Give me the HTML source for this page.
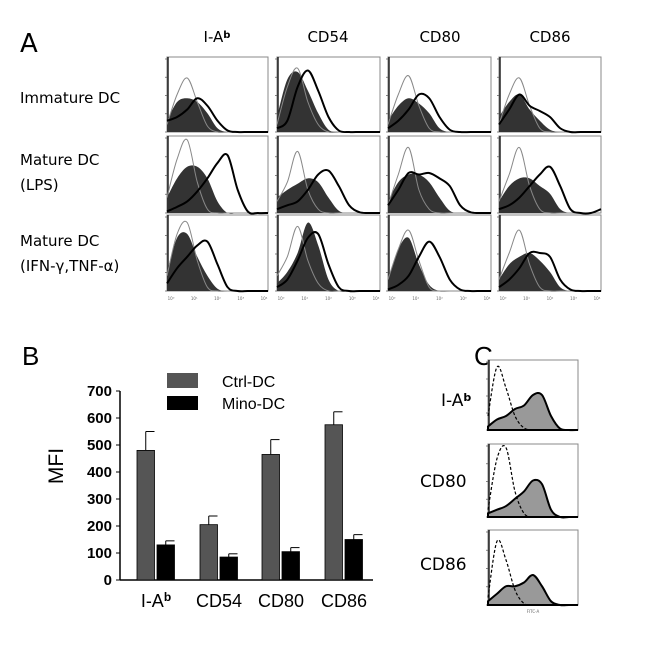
<!DOCTYPE html>
<html><head><meta charset="utf-8"><style>
body{margin:0;background:#fff;width:650px;height:668px;overflow:hidden}
svg{display:block}
text{font-family:"DejaVu Sans","Liberation Sans",sans-serif}
.ar{font-family:"Liberation Sans",Arial,sans-serif}
</style></head><body>
<svg id="fig" width="650" height="668">
<text x="20" y="52" font-size="26">A</text>
<text x="22" y="365" font-size="26" class="ar">B</text>
<text x="474" y="365" font-size="26" class="ar">C</text>
<g font-size="15">
<text x="217" y="42" text-anchor="middle">I-A<tspan font-size="10" dy="-4" font-weight="bold">b</tspan></text>
<text x="328" y="42" text-anchor="middle">CD54</text>
<text x="440" y="42" text-anchor="middle">CD80</text>
<text x="550" y="42" text-anchor="middle">CD86</text>
</g>
<g font-size="15">
<text x="20" y="103">Immature DC</text>
<text x="20" y="165">Mature DC</text>
<text x="20" y="190">(LPS)</text>
<text x="20" y="246">Mature DC</text>
<text x="20" y="271">(IFN-γ,TNF-α)</text>
</g>
<g font-size="17" class="ar">
<text x="441" y="406">I-A<tspan font-size="11" dy="-5" font-weight="bold">b</tspan></text>
<text x="420" y="487">CD80</text>
<text x="420" y="570">CD86</text>
</g>
<g id="gA"></g>
<g id="gC"></g>
<g id="gB"></g>
</svg>
<script>
const NS="http://www.w3.org/2000/svg";
// Panel A histogram data (fraction of box height at evenly spaced log-fluorescence points)
const aGray=[
[0.1,0.5,0.72,0.4,0.08,0,0,0,0,0,0],[0.1,0.6,0.85,0.4,0.1,0,0,0,0,0,0],[0.1,0.5,0.75,0.35,0.05,0,0,0,0,0,0],[0.1,0.5,0.72,0.35,0.05,0,0,0,0,0,0],
[0.2,0.7,0.95,0.4,0.05,0,0,0,0,0,0],[0.15,0.4,0.8,0.3,0.05,0,0,0,0,0,0],[0.1,0.5,0.85,0.3,0.05,0,0,0,0,0,0],[0.15,0.5,0.85,0.35,0.05,0,0,0,0,0,0],
[0.2,0.75,0.9,0.4,0.05,0,0,0,0,0,0],[0.2,0.45,0.85,0.4,0.1,0,0,0,0,0,0],[0.15,0.55,0.8,0.4,0.05,0,0,0,0,0,0],[0.15,0.5,0.8,0.35,0.05,0,0,0,0,0,0]];
const aFill=[
[0.15,0.4,0.45,0.4,0.25,0.05,0,0,0,0,0],[0.2,0.7,0.8,0.55,0.25,0.03,0,0,0,0,0],[0.15,0.35,0.45,0.38,0.25,0.05,0,0,0,0,0],[0.2,0.4,0.5,0.3,0.15,0.03,0,0,0,0,0],
[0.2,0.45,0.6,0.6,0.45,0.15,0,0,0,0,0],[0.2,0.3,0.38,0.45,0.4,0.2,0.03,0,0,0,0],[0.15,0.4,0.5,0.5,0.4,0.2,0.03,0,0,0,0],[0.15,0.35,0.45,0.45,0.35,0.25,0.05,0,0,0,0],
[0.25,0.7,0.75,0.45,0.2,0.03,0,0,0,0,0],[0.1,0.25,0.5,0.9,0.6,0.15,0,0,0,0,0],[0.15,0.55,0.7,0.35,0.08,0,0,0,0,0,0],[0.15,0.35,0.45,0.5,0.4,0.25,0.05,0,0,0,0]];
const aBlack=[
[0.15,0.2,0.3,0.45,0.35,0.15,0.02,0,0,0,0],[0.05,0.15,0.6,0.82,0.55,0.2,0.02,0,0,0,0],[0.05,0.15,0.3,0.5,0.45,0.2,0.03,0,0,0,0],[0.1,0.3,0.5,0.35,0.28,0.2,0.05,0,0,0,0],
[0.02,0.08,0.15,0.28,0.45,0.65,0.75,0.3,0.02,0,0],[0.05,0.1,0.15,0.3,0.5,0.55,0.35,0.1,0.01,0,0],[0.1,0.3,0.52,0.5,0.52,0.45,0.35,0.1,0.01,0,0],[0.05,0.1,0.2,0.35,0.5,0.6,0.35,0.05,0,0,0.05],
[0.1,0.3,0.45,0.6,0.65,0.35,0.05,0,0,0,0],[0.05,0.15,0.4,0.7,0.75,0.35,0.05,0,0,0,0],[0.02,0.08,0.2,0.45,0.65,0.45,0.15,0.02,0,0,0],[0.05,0.15,0.3,0.5,0.5,0.45,0.15,0.02,0,0,0]];
// Panel C
const cDash=[[0.2,0.9,0.6,0.2,0.03,0,0,0,0,0,0],[0.1,0.8,0.95,0.35,0.05,0,0,0,0,0,0],[0.1,0.85,0.6,0.2,0.02,0,0,0,0,0,0]];
const cFill=[[0.05,0.15,0.2,0.3,0.35,0.5,0.5,0.2,0.02,0,0],[0.05,0.1,0.15,0.25,0.35,0.5,0.45,0.1,0,0,0],[0.05,0.15,0.25,0.25,0.3,0.4,0.25,0.05,0,0,0]];
// Panel B
const categories=["I-A","CD54","CD80","CD86"];
const ctrlMFI=[480,205,465,575];
const ctrlErr=[70,32,55,48];
const minoMFI=[130,85,105,150];
const minoErr=[15,12,15,18];
const yTicks=[0,100,200,300,400,500,600,700];

function el(t,a,p){const e=document.createElementNS(NS,t);for(const k in a)e.setAttribute(k,a[k]);p.appendChild(e);return e;}
function pts(arr,x0,y1,w,h){return arr.map((v,i)=>[x0+w*i/(arr.length-1),y1-h*v]);}
function smooth(p){let d='M'+p[0][0]+','+p[0][1];
  for(let i=0;i<p.length-1;i++){const p0=p[i-1]||p[i],p1=p[i],p2=p[i+1],p3=p[i+2]||p2;
    const c1=[p1[0]+(p2[0]-p0[0])/6,p1[1]+(p2[1]-p0[1])/6],c2=[p2[0]-(p3[0]-p1[0])/6,p2[1]-(p3[1]-p1[1])/6];
    d+=' C'+c1.join(',')+' '+c2.join(',')+' '+p2.join(',');}
  return d;}
function box(g,x0,y0,w,h){
  const r=el('rect',{x:x0,y:y0,width:w,height:h,fill:'#fff',stroke:'#888','stroke-width':1},g);
  
  
  el('line',{x1:x0+1,y1:y0,x2:x0+1,y2:y0+h,stroke:'#222','stroke-width':1.5},g);
  for(let i=0;i<5;i++)el('line',{x1:x0-2,y1:y0+2+i*(h-2)/4,x2:x0,y2:y0+2+i*(h-2)/4,stroke:'#666','stroke-width':0.8},g);
}
const gA=document.getElementById('gA');
const colX=[167,277,388,499],colW=[101,103,103,102];
const rowY=[57,136,215],rowH=[75,77,76];
for(let r=0;r<3;r++)for(let c=0;c<4;c++){
  const i=r*4+c,x0=colX[c],y0=rowY[r],w=colW[c],h=rowH[r],y1=y0+h;
  box(gA,x0,y0,w,h);
  const f=pts(aFill[i],x0,y1,w,h);
  const fp=el('path',{d:smooth(f)+' L'+(x0+w)+','+y1+' L'+x0+','+y1+' Z',fill:'#333'},gA);
  
  
  const gp=el('path',{d:smooth(pts(aGray[i],x0,y1,w,h)),fill:'none',stroke:'#888','stroke-width':1},gA);
  
  
  const bp=el('path',{d:smooth(pts(aBlack[i],x0,y1,w,h)),fill:'none',stroke:'#000','stroke-width':2},gA);
  
  
  if(r===2){for(let k=0;k<5;k++){const t=el('text',{x:x0+4+k*(w-8)/4,y:y1+9,'font-size':4,'text-anchor':'middle',fill:'#666'},gA);t.textContent='10'+'⁰¹²³⁴'[k];}}
}
const gC=document.getElementById('gC');
const cY=[360,444,530],cH=[70,73,75];
for(let i=0;i<3;i++){
  const x0=488,w=90,y0=cY[i],h=cH[i],y1=y0+h;
  box(gC,x0,y0,w,h);
  const f=pts(cFill[i],x0,y1,w,h);
  const fp=el('path',{d:smooth(f)+' L'+(x0+w)+','+y1+' L'+x0+','+y1+' Z',fill:'#999',stroke:'#000','stroke-width':2},gC);
  
  
  const dp=el('path',{d:smooth(pts(cDash[i],x0,y1,w,h)),fill:'none',stroke:'#000','stroke-width':1.2,'stroke-dasharray':'3,2'},gC);
  
  
}
const ft=el('text',{x:533,y:613,'font-size':4,'text-anchor':'middle',fill:'#666'},gC);ft.textContent='FITC-A';

// Bar chart
const gB=document.getElementById('gB');
const y0px=580,pxPer=27/100,axX=120,axEnd=373;
const yS=v=>y0px-v*pxPer;
el('line',{x1:axX,y1:yS(700),x2:axX,y2:y0px,stroke:'#000','stroke-width':1.5},gB);
el('line',{x1:axX,y1:y0px,x2:axEnd,y2:y0px,stroke:'#000','stroke-width':1.5},gB);
yTicks.forEach(v=>{
  el('line',{x1:axX-4,y1:yS(v),x2:axX,y2:yS(v),stroke:'#000'},gB);
  const t=el('text',{x:axX-8,y:yS(v)+5,'font-size':15,'font-weight':'bold','text-anchor':'end',class:'ar'},gB);
  
  
  t.textContent=v;
});
const yt=el('text',{x:0,y:0,'font-size':21,class:'ar','text-anchor':'middle',transform:'translate(63,466) rotate(-90)'},gB);


yt.textContent='MFI';
const bw=17.5,groupX=[137,200,262,325];
categories.forEach((c,i)=>{
  const gx=groupX[i];
  [[ctrlMFI,ctrlErr,'#555',0],[minoMFI,minoErr,'#000',20]].forEach(([vals,errs,col,off])=>{
    const x=gx+off;
    el('line',{x1:x+bw/2,y1:yS(vals[i]),x2:x+bw/2,y2:yS(vals[i]+errs[i]),stroke:'#000','stroke-width':1},gB);
    el('line',{x1:x+bw/2,y1:yS(vals[i]+errs[i]),x2:x+bw,y2:yS(vals[i]+errs[i]),stroke:'#000','stroke-width':1},gB);
    const b=el('rect',{x:x,y:yS(vals[i]),width:bw,height:vals[i]*pxPer,fill:col,stroke:'#000','stroke-width':0.8},gB);
    
    
  });
  const t=el('text',{x:gx+19,y:607,'font-size':18,'text-anchor':'middle',class:'ar'},gB);
  
  
  t.textContent=c;
  if(c==='I-A'){const s=el('tspan',{'font-size':12,dy:-6,'font-weight':'bold'},t);s.textContent='b';}
});
const l1=el('rect',{x:167,y:373,width:31,height:15,fill:'#555'},gB);


const l2=el('rect',{x:167,y:396,width:31,height:14,fill:'#000'},gB);


const t1=el('text',{x:222,y:387,'font-size':16,class:'ar'},gB);t1.textContent='Ctrl-DC';


const t2=el('text',{x:222,y:409,'font-size':16,class:'ar'},gB);t2.textContent='Mino-DC';


</script>
</body></html>
